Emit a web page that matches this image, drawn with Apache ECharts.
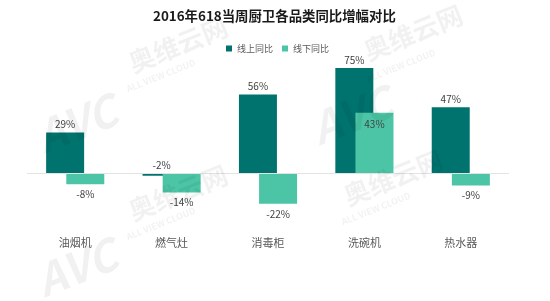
<!DOCTYPE html>
<html>
<head>
<meta charset="utf-8">
<script src="https://cdn.jsdelivr.net/npm/echarts@6/dist/echarts.min.js"></script>
<style>html,body{margin:0;padding:0;background:#fff}#c{width:550px;height:301px}</style>
</head>
<body>
<div id="c"></div>
<script>
var categories = ['油烟机', '燃气灶', '消毒柜', '洗碗机', '热水器'];
var onlineValues = [29, -2, 56, 75, 47];
var offlineValues = [-8, -14, -22, 43, -9];
var seriesNames = ['线上同比', '线下同比'];
var titleText = '2016年618当周厨卫各品类同比增幅对比';

var FONT = '"Noto Sans CJK SC", "Microsoft YaHei", sans-serif';
var chart = echarts.init(document.getElementById('c'));

function onlineData(vals) {
  return vals.map(function (v) {
    return { value: v, label: { position: 'top', distance: 3 } };
  });
}
function offlineData(vals) {
  return vals.map(function (v) {
    return v >= 0
      ? { value: v, label: { position: 'insideTop', distance: 6 } }
      : { value: v, label: { position: 'bottom', distance: 5 } };
  });
}

function wm(x, y, text, size, style) {
  return {
    type: 'text', x: x, y: y, rotation: 0.38, silent: true, z: 100,
    style: { text: text, fill: 'rgba(0,0,0,0.055)', font: (style || 'bold') + ' ' + size + 'px ' + FONT }
  };
}

chart.setOption({
  animation: false,
  textStyle: { fontFamily: FONT },
  title: {
    text: titleText, left: 148, top: 4,
    textStyle: { fontSize: 13.4, fontWeight: 'bold', color: '#1a1a1a', fontFamily: FONT }
  },
  legend: {
    data: seriesNames, left: 221, top: 39, itemWidth: 6, itemHeight: 6, itemGap: 9,
    icon: 'rect',
    textStyle: { fontSize: 9, color: '#595959', fontFamily: FONT }
  },
  grid: { left: 27, right: 41, top: 61, bottom: 72 },
  xAxis: {
    type: 'category', data: categories,
    axisLine: { show: false }, axisTick: { show: false },
    axisLabel: { color: '#595959', fontSize: 11, margin: 8, fontFamily: FONT }
  },
  yAxis: {
    type: 'value', min: -40, max: 80, show: false, splitLine: { show: false }
  },
  graphic: [
    wm(30, 118, 'AVC', 44, 'italic bold'),
    wm(125, 52, '奥维云网', 26),
    wm(125, 85, 'ALL VIEW CLOUD', 9),
    wm(305, 110, 'AVC', 44, 'italic bold'),
    wm(360, 40, '奥维云网', 26),
    wm(365, 75, 'ALL VIEW CLOUD', 9),
    wm(30, 262, 'AVC', 44, 'italic bold'),
    wm(125, 200, '奥维云网', 26),
    wm(125, 233, 'ALL VIEW CLOUD', 9),
    wm(340, 185, '奥维云网', 26),
    wm(340, 218, 'ALL VIEW CLOUD', 9)
  ],
  series: [
    {
      name: seriesNames[0], type: 'bar', data: onlineData(onlineValues),
      barWidth: 38, barGap: '-47%',
      itemStyle: { color: '#00736E' },
      label: { show: true, formatter: '{c}%', color: '#404040', fontSize: 10, fontFamily: FONT },
      markLine: {
        silent: true, symbol: 'none', label: { show: false },
        lineStyle: { color: '#e3e3e3', width: 1, type: 'solid' },
        data: [{ yAxis: 0 }]
      }
    },
    {
      name: seriesNames[1], type: 'bar', data: offlineData(offlineValues),
      barWidth: 38,
      itemStyle: { color: '#4CC5A6' },
      label: { show: true, formatter: '{c}%', color: '#404040', fontSize: 10, fontFamily: FONT }
    }
  ]
});
</script>
</body>
</html>
